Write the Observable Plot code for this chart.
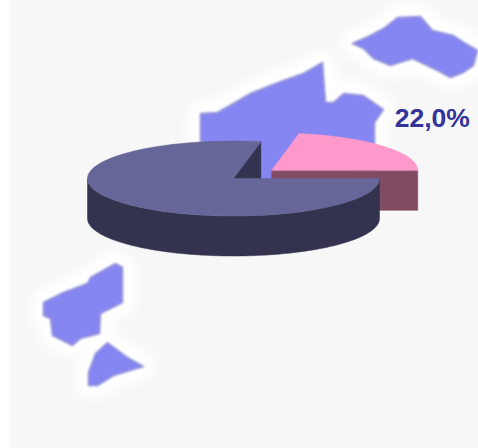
<!DOCTYPE html>
<html>
<head>
<meta charset="utf-8">
<script src="https://cdn.jsdelivr.net/npm/d3@7"></script>
<script src="https://cdn.jsdelivr.net/npm/@observablehq/plot@0.6"></script>
<style>html,body{margin:0;padding:0;background:#fff;overflow:hidden}svg{display:block}</style>
</head>
<body>
<div id="chart"></div>
<script>
// Pie values
const sliceNames = ["Resto", "Zona"];
const sliceShares = [78, 22];
const sliceLabels = [null, "22,0%"];
const topColors = ["#666699", "#ff99cc"];
const wallColors = ["#33334f", "#804c63"];

// Map outlines, in the picture's own units
const regionNames = ["north", "centre", "west", "south"];
const regionX = [
  [352,370,383,397,420,432,453,465,477,473,463,450,437,412,390,373,363],
  [200,217,233,250,270,283,303,322,325,333,343,363,383,374,374,374,260,200],
  [43,63,87,90,115,122,122,100,99,80,72,52,50,43],
  [107,127,143,113,97,88,88,95]
];
const regionY = [
  [43,35,28,17,16,30,35,43,50,65,72,77,70,58,65,58,48],
  [113,112,103,93,85,80,73,62,102,102,93,95,109,122,142,170,190,170],
  [302,292,283,277,263,267,302,313,333,338,345,335,318,315],
  [342,357,366,375,385,385,372,353]
];
const regions = regionNames.flatMap((name, i) =>
  regionX[i].map((x, j) => ({name, x, y: regionY[i][j]})));

// Pie projection
const cx = 233, cy = 178, rx = 146, ry = 37.5, depth = 40, explode = 0.34;
let acc = 0;
const total = d3.sum(sliceShares);
const slices = sliceShares.map((v, i) => {
  const a0 = acc / total * 2 * Math.PI; acc += v;
  const a1 = acc / total * 2 * Math.PI;
  const mid = (a0 + a1) / 2;
  const off = i === 1 ? explode : 0;
  return {i, a0, a1, ox: cx + off * rx * Math.cos(mid), oy: cy + off * ry * Math.sin(mid)};
});
const arcPts = (s, a0, a1, dz = 0) => d3.range(0, 121).map(k => {
  const a = a0 + (a1 - a0) * k / 120;
  return {x: s.ox + rx * Math.cos(a), y: s.oy + ry * Math.sin(a) + dz};
});
const topFace = s => [{x: s.ox, y: s.oy}, ...arcPts(s, s.a0, s.a1)];
const sideWall = (s, a) => {
  const p = {x: s.ox + rx * Math.cos(a), y: s.oy + ry * Math.sin(a)};
  return [{x: s.ox, y: s.oy}, p, {x: p.x, y: p.y + depth}, {x: s.ox, y: s.oy + depth}];
};
const rimWall = (s, a0, a1) => [...arcPts(s, a0, a1), ...arcPts(s, a0, a1, depth).reverse()];

const [dark, pink] = slices;
const poly = (pts, fill, opts = {}) => Plot.line(pts, {x: "x", y: "y", curve: "linear-closed", fill, stroke: fill, strokeWidth: 0.5, ...opts});
const labelRows = [{x: pink.ox + 123, y: pink.oy - 52, text: sliceLabels[1]}];

const regionLayer = (fill, opts) => regionNames.map(name =>
  poly(regions.filter(d => d.name === name), fill, opts));

const svg = Plot.plot({
  width: 478, height: 448,
  margin: 0,
  x: {domain: [0, 478], range: [0, 478], axis: null},
  y: {domain: [0, 448], range: [0, 448], axis: null},
  style: {background: "linear-gradient(to right,#fff 10px,#f7f7f7 10px)", overflow: "hidden"},
  marks: [
    regionLayer("#ffffff", {strokeWidth: 26, className: "halo"}),
    regionLayer("#8686f3", {stroke: "#9292d4", strokeWidth: 1.5, className: "soft"}),
    poly(sideWall(pink, pink.a1), wallColors[1]),
    poly(topFace(pink), topColors[1]),
    poly(sideWall(dark, dark.a1), wallColors[0]),
    poly(rimWall(dark, 0, Math.PI), wallColors[0]),
    poly(topFace(dark), topColors[0]),
    Plot.text(labelRows, {x: "x", y: "y", text: "text", textAnchor: "start", fill: "#333399", fontSize: 26.5, fontWeight: "bold", fontFamily: "Liberation Sans, Arial, sans-serif"})
  ]
});
const s = d3.select(svg);
s.selectAll("g.halo").style("filter", "blur(7px)");
s.selectAll("g.soft").style("filter", "blur(1px)");
document.getElementById("chart").append(svg);
</script>
</body>
</html>
